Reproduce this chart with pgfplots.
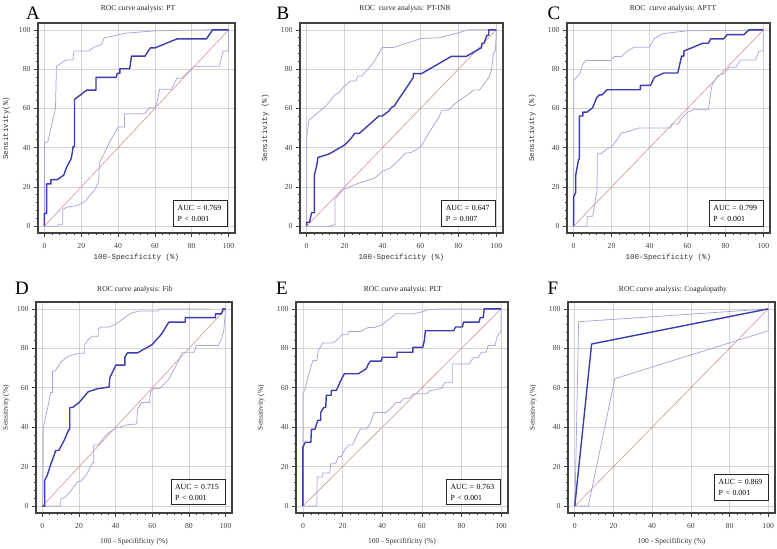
\documentclass[border=0pt]{standalone}
\usepackage{fontspec}
\setmainfont{Liberation Serif}
\newfontfamily\monof{Liberation Mono}
\usepackage{pgfplots}
\pgfplotsset{compat=1.18}
\definecolor{mainc}{RGB}{62,60,172}
\definecolor{cic}{RGB}{168,166,220}
\definecolor{diagc}{RGB}{212,150,150}
\definecolor{gridc}{RGB}{212,212,212}
\definecolor{framec}{RGB}{65,65,65}
\tikzset{
  aucbox/.style={draw=black!85, line width=1pt, fill=white, anchor=south east, align=left,
    font=\fontsize{7.8}{11}\selectfont, inner xsep=4pt, inner ysep=4.5pt, text width=46pt},
}
\pgfplotsset{
  roc/.style={
    scale only axis,
    xmin=-3.5, xmax=103.5, ymin=-3.5, ymax=103.5,
    xtick={0,20,...,100}, ytick={0,20,...,100},
    minor tick num=4,
    tick align=outside, xtick pos=left, ytick pos=left,
    major tick length=4pt, minor tick length=2.2pt,
    every tick/.style={framec, line width=0.6pt},
    axis line style={framec, line width=1.3pt},
    grid=major, major grid style={gridc, line width=0.6pt},
    tick label style={font=\fontsize{7.7}{8}\selectfont, text=black!75},
    xticklabel style={yshift=-2.5pt},
    /pgf/number format/assume math mode=true,
    every axis y label/.style={rotate=90, anchor=center},
    every axis x label/.style={anchor=center},
    label style={font=\fontsize{7.5}{8}\selectfont, text=black!80},
    clip=false,
  },
  mainl/.style={mainc, line width=1.4pt, line join=round},
  cil/.style={cic, line width=0.75pt},
  diagl/.style={diagc, line width=0.6pt},
}
\begin{document}
\begin{tikzpicture}
\useasboundingbox (0pt,0pt) rectangle (777pt,-549pt);
% ---------------- A ----------------
\begin{axis}[roc, at={(38pt,-233pt)}, anchor=south west, width=197pt, height=210pt,
  xlabel={\monof 100-Specificity (\%)}, ylabel={\monof Sensitivity(\%)},
  xlabel style={at={(axis description cs:0.5,-0.119)}},
  ylabel style={at={(axis description cs:-0.162,0.5)}}]
\addplot[diagl] coordinates {(0,0)(100,100)};
\addplot[cil] coordinates {(0,0)(0,10.7)(0,42.5)(1.8,42.9)(4.5,54)(6,60)(6.5,81.4)(11.8,84.7)(15.5,84.7)(16,89.2)(24,89.2)(27,91.2)(31,92.5)(32.5,95.9)(44,98.3)(60,99.5)(88,100)(100,100)};
\addplot[cil] coordinates {(0,0)(7.3,0)(7.5,1)(10,1)(10,8.6)(12.7,9.8)(18,10.5)(21.8,12.4)(27.2,18.3)(29.5,22.5)(29.8,32)(35.4,42.9)(40,50.5)(43.5,50.5)(43.5,57.3)(54.5,57.3)(55.5,58.5)(57,60.3)(60,60.3)(61,62.4)(62.6,69.8)(69,69.8)(72,75.4)(74.5,75.4)(80.8,81)(85,81.5)(95,81.5)(97,89.2)(100,89.2)(100,100)};
\addplot[mainl] coordinates {(0,0)(0,6.5)(1.2,6.5)(1.2,21.5)(3.5,21.5)(3.5,23.7)(7,23.7)(10.5,26)(12,30)(14.5,34.3)(15.3,38.5)(15.5,40.5)(16.3,40.5)(16.3,64.6)(23,69.3)(28,69.3)(28,75.8)(39,75.8)(39.5,77.9)(41,77.9)(41,80.2)(46.3,80.2)(47.3,86.6)(54.6,86.6)(57.5,90.8)(60,90.8)(72,95.4)(88,95.4)(91.3,100)(100,100)};
\node[aucbox] at (axis cs:99.8,-0.3) {AUC = 0.769\\P < 0.001};
\end{axis}
% ---------------- B ----------------
\begin{axis}[roc, at={(300pt,-233pt)}, anchor=south west, width=203pt, height=210pt,
  xlabel={\monof 100-Specificity (\%)}, ylabel={\monof Sensitivity (\%)},
  xlabel style={at={(axis description cs:0.5,-0.119)}},
  ylabel style={at={(axis description cs:-0.172,0.5)}}]
\addplot[diagl] coordinates {(0,0)(100,100)};
\addplot[cil] coordinates {(0,0)(0,10)(0,45)(1.2,54)(10.1,61.1)(13.2,64.9)(14.5,66.5)(17,68)(20,71.5)(23.2,74)(26,74)(27,76.5)(29,76.5)(31.3,78.9)(35,83)(39.9,91)(45.5,91)(60.5,95.6)(70,96)(80,98.5)(85,100)(100,100)};
\addplot[cil] coordinates {(0,0)(12,0)(14.9,0.8)(15,13.9)(19.2,18.6)(27.8,22)(35.9,24.5)(39.9,27.9)(44.2,29.6)(48.8,33.8)(51.9,37.2)(55,37.5)(57.9,39)(60.5,41)(64.8,48.1)(69.9,55.7)(71.1,59.1)(74.5,59.1)(79.4,63.3)(84.5,66.7)(88,69.3)(91,69.3)(96,75.7)(97.4,79.4)(98.5,88)(99.5,89.5)(100,100)};
\addplot[mainl] coordinates {(0,0)(0,2)(1.5,2)(2.6,6.8)(4.1,6.8)(4.1,26.2)(5.2,30.4)(6,35)(11.9,36.8)(20.1,41.4)(23.5,44.8)(25.3,47.3)(27.8,47.3)(38.1,56.1)(39.9,56.1)(43.3,58.6)(44.7,60.5)(46,61)(56.2,75.7)(56.2,77.7)(60.5,77.7)(76.3,86.5)(84.2,86.5)(92.1,90.9)(92.5,93.2)(93.5,93.2)(95,97.2)(96,97.2)(96,100)(100,100)};
\node[aucbox] at (axis cs:100,-0.3) {AUC = 0.647\\P = 0.007};
\end{axis}
% ---------------- C ----------------
\begin{axis}[roc, at={(567pt,-233pt)}, anchor=south west, width=203pt, height=210pt,
  xlabel={\monof 100-Specificity (\%)}, ylabel={\monof Sensitivity (\%)},
  xlabel style={at={(axis description cs:0.5,-0.119)}},
  ylabel style={at={(axis description cs:-0.172,0.5)}}]
\addplot[diagl] coordinates {(0,0)(100,100)};
\addplot[cil] coordinates {(0,0)(0,74.2)(2.1,76.4)(3.5,78)(4.6,81.9)(6.2,84.4)(19.4,84.4)(21.5,86.4)(25.2,86.4)(28,89)(32,91.2)(40.1,91.2)(42.3,95.4)(46.7,98)(55,99)(60,99.5)(100,100)};
\addplot[cil] coordinates {(0,0)(7,0)(7.2,5)(10,5)(12.3,18)(12.5,36.9)(14.4,36.9)(17.1,39)(20,40.5)(22.9,44.1)(25.2,47.5)(28,48)(34.3,50)(51.1,50)(52,52)(55,52)(57.2,55.3)(60.2,58.1)(63.4,59.3)(71,59.3)(72.5,69.5)(73,72)(76,76.6)(79.6,78)(81.9,81)(85.5,81)(88,84.7)(95.9,84.7)(97.7,89.2)(100,89.2)(100,100)};
\addplot[mainl] coordinates {(0,0)(0,14.9)(1.1,17.1)(1.1,26)(2.6,34)(3,34)(3,56.1)(4.9,56.1)(4.9,58.1)(7,58.1)(10,60.3)(12.1,65.4)(13.6,66.9)(15,66.9)(17.6,69.5)(35.2,69.5)(35.2,71.7)(40.5,71.7)(42.6,75.9)(47.5,78)(54.9,78)(56.9,86.6)(58.1,86.6)(58.1,89.2)(62.1,90.8)(68.1,93.2)(71,93.2)(72.2,95.4)(79,95.4)(81,97.6)(89.8,97.6)(92.4,100)(100,100)};
\node[aucbox] at (axis cs:100.3,-0.3) {AUC = 0.799\\P < 0.001};
\end{axis}
% ---------------- D ----------------
\begin{axis}[roc, at={(36pt,-513pt)}, anchor=south west, width=196pt, height=211pt,
  xlabel={100 - Specifificity (\%)}, ylabel={Sensitivity (\%)},
  xlabel style={at={(axis description cs:0.5,-0.137)}},
  ylabel style={at={(axis description cs:-0.153,0.5)}}]
\addplot[diagl] coordinates {(0,0)(100,100)};
\addplot[cil] coordinates {(0,0)(0.3,5)(0.5,40)(2.2,47)(4.6,57.6)(5.5,57.6)(5.5,68.5)(7,68.5)(10,73)(14,76)(20,77.5)(22.8,77.5)(22.8,81.5)(25,84.4)(27,86.1)(30.5,86.1)(30.5,89.9)(32.2,90.8)(36.5,90.8)(40.1,92.3)(44,95)(48.3,97.8)(53,99)(63,99)(64.1,100)(92,100)};
\addplot[cil] coordinates {(0,0)(10,0)(10,3.5)(13.1,5)(17.1,9.7)(19.5,12.6)(21,12.6)(24,15.9)(26.4,20.1)(27.5,22)(28,22)(28,31)(30.5,31)(34,35.2)(36.4,37.4)(40.1,39.6)(46.8,41.3)(51.4,41.6)(52,49.2)(54.1,52.5)(58.5,52.5)(59,58.1)(60.8,59.6)(64,59.6)(69,64.3)(74.1,73.2)(76.3,78)(82.9,78)(84,81.5)(96,81.5)(97.8,84.9)(99,89)(100,100)};
\addplot[mainl] coordinates {(0,0)(1.3,0)(1.3,13.1)(2.5,15.3)(4.9,22.1)(6.4,25.7)(7.2,28.2)(8.9,28.2)(11.8,33.2)(14.4,38.8)(14.9,38.8)(14.9,50)(16.4,50)(20,52.5)(25,58)(30,59.5)(36.4,60.4)(36.8,65.1)(40.1,71.5)(45,71.5)(45,75.5)(46.4,77.7)(51.9,77.7)(59.9,81.9)(65,87.2)(69,93.3)(78,93.3)(78,95.6)(94.5,95.6)(94.5,97.5)(97.8,97.5)(98.5,100)(100,100)};
\node[aucbox] at (axis cs:100,0.5) {AUC = 0.715\\P < 0.001};
\end{axis}
% ---------------- E ----------------
\begin{axis}[roc, at={(296pt,-513pt)}, anchor=south west, width=212pt, height=211pt,
  xlabel={100 - Specifificity (\%)}, ylabel={Sensitivity (\%)},
  xlabel style={at={(axis description cs:0.5,-0.137)}},
  ylabel style={at={(axis description cs:-0.165,0.5)}}]
\addplot[diagl] coordinates {(0,0)(100,100)};
\addplot[cil] coordinates {(0,0)(0,57)(1,59.2)(2,63.4)(3.3,68)(5,73.8)(7,73.8)(7.8,78.9)(10,82.7)(15,82.7)(16.9,83.9)(19.9,87.2)(22.9,87.2)(22.9,88.5)(29,88.5)(33,90.6)(36,90.6)(40,91.9)(41.9,93.6)(44.9,95.8)(46.8,97.5)(56,97.5)(60,98.5)(63,99.5)(70.1,100)(100,100)};
\addplot[cil] coordinates {(0,0)(7,0)(7.2,14.8)(10,14.8)(10,16.8)(13.5,16.8)(14,21.5)(16.5,21.5)(17.9,25.2)(19.5,25.2)(20.9,28.2)(23.1,31)(25,31)(26.9,35.2)(29,39.1)(32,39.1)(34,41.9)(36,47.5)(42,47.5)(44,49.2)(47,52.5)(49,52.5)(51,54.7)(53.5,54.7)(56,57)(62.5,57)(64,58.5)(69.9,59.6)(71.6,62.6)(75.4,62.6)(75.4,72.1)(83.9,72.1)(85.9,75.2)(88.5,75.2)(90,78)(92.5,78)(93.5,81.5)(97,81.5)(98,86)(100,88.9)(100,100)};
\addplot[mainl] coordinates {(0,0)(0,29.9)(1.2,32.4)(4,32.4)(4.3,38.9)(6,38.9)(7.5,43.5)(9,43.5)(9,47.5)(10.5,50)(11.5,50)(11.8,56.2)(14.3,56.2)(14.3,58.7)(16.9,58.7)(18.4,62.1)(19.5,64.5)(20.9,67.1)(27.9,67.1)(31.9,69.6)(33,72)(34,73.5)(39.5,73.5)(40,75.5)(47.5,75.5)(47.5,78)(55.5,78)(55.5,80.5)(60.5,80.5)(61.3,84)(61.8,88.9)(76.1,88.9)(77,90.8)(80.5,90.8)(81,93.3)(88.9,93.3)(89.5,95.6)(91,95.6)(91.5,100)(100,100)};
\node[aucbox] at (axis cs:100,0.5) {AUC = 0.763\\P < 0.001};
\end{axis}
% ---------------- F ----------------
\begin{axis}[roc, at={(568pt,-513pt)}, anchor=south west, width=207pt, height=211pt,
  xlabel={100 - Specifificity (\%)}, ylabel={Sensitivity (\%)},
  xlabel style={at={(axis description cs:0.5,-0.137)}},
  ylabel style={at={(axis description cs:-0.169,0.5)}}]
\addplot[diagl] coordinates {(0,0)(100,100)};
\addplot[cil] coordinates {(0,0)(0.3,10)(2,93.5)(100,100)};
\addplot[cil] coordinates {(0,0)(7,0)(20.7,64.6)(100,88.9)(100,100)};
\addplot[mainl] coordinates {(0,0)(8.7,82.2)(100,100)};
\node[aucbox] at (axis cs:100.5,2.7) {AUC = 0.869\\P < 0.001};
\end{axis}
% ---------------- titles and letters ----------------
\begin{scope}[every node/.style={font=\fontsize{7.6}{8}\selectfont, text=black!85}]
\node at (138pt,-9pt) {ROC curve analysis: PT};
\node at (405pt,-9pt) {ROC\ \ curve analysis: PT-INR};
\node at (673pt,-9pt) {ROC\ \ curve analysis: APTT};
\node at (135pt,-290pt) {ROC curve analysis: Fib};
\node at (403pt,-290pt) {ROC curve analysis: PLT};
\node at (673pt,-290pt) {ROC curve analysis: Coagulopathy};
\end{scope}
\begin{scope}[every node/.style={font=\fontsize{19}{20}\selectfont}]
\node at (33pt,-13pt) {A};
\node at (283pt,-13pt) {B};
\node at (554pt,-13pt) {C};
\node at (22pt,-288pt) {D};
\node at (282pt,-288pt) {E};
\node at (553pt,-288pt) {F};
\end{scope}
\end{tikzpicture}
\end{document}
